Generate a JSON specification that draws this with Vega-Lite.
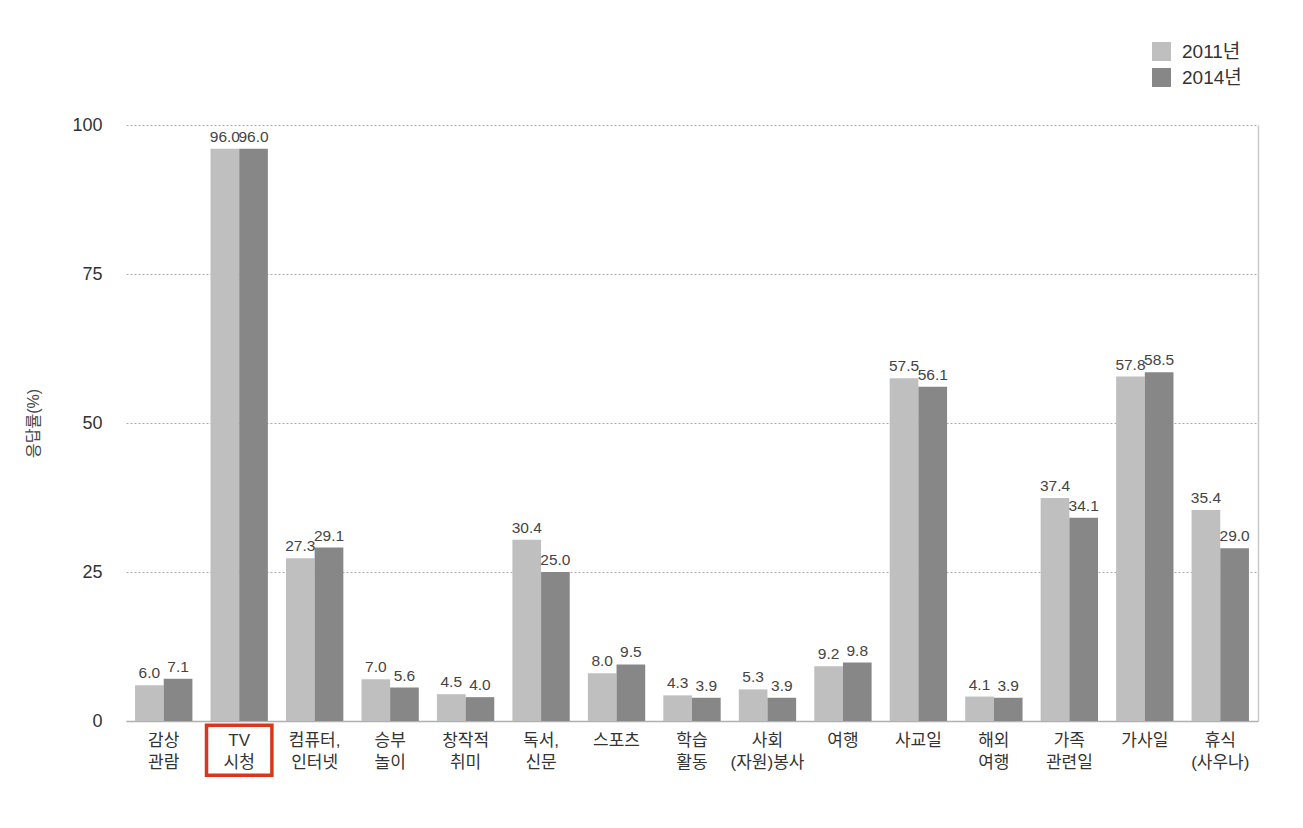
{
  "$schema": "https://vega.github.io/schema/vega-lite/v6.json",
  "autosize": {"type": "none"},
  "width": 1132,
  "height": 596,
  "padding": {"left": 126, "top": 125, "right": 45, "bottom": 107},
  "background": "white",
  "config": {
    "font": "Liberation Sans, Noto Sans CJK KR",
    "view": {"stroke": null},
    "axis": {"labelFont": "Liberation Sans, Noto Sans CJK KR", "titleFont": "Liberation Sans, Noto Sans CJK KR"},
    "legend": {"labelFont": "Liberation Sans, Noto Sans CJK KR"}
  },
  "datasets": {
    "bars": [
      {"cat": "감상 관람", "year": "2011년", "value": 6.0},
      {"cat": "감상 관람", "year": "2014년", "value": 7.1},
      {"cat": "TV 시청", "year": "2011년", "value": 96.0},
      {"cat": "TV 시청", "year": "2014년", "value": 96.0},
      {"cat": "컴퓨터, 인터넷", "year": "2011년", "value": 27.3},
      {"cat": "컴퓨터, 인터넷", "year": "2014년", "value": 29.1},
      {"cat": "승부 놀이", "year": "2011년", "value": 7.0},
      {"cat": "승부 놀이", "year": "2014년", "value": 5.6},
      {"cat": "창작적 취미", "year": "2011년", "value": 4.5},
      {"cat": "창작적 취미", "year": "2014년", "value": 4.0},
      {"cat": "독서, 신문", "year": "2011년", "value": 30.4},
      {"cat": "독서, 신문", "year": "2014년", "value": 25.0},
      {"cat": "스포츠", "year": "2011년", "value": 8.0},
      {"cat": "스포츠", "year": "2014년", "value": 9.5},
      {"cat": "학습 활동", "year": "2011년", "value": 4.3},
      {"cat": "학습 활동", "year": "2014년", "value": 3.9},
      {"cat": "사회 (자원)봉사", "year": "2011년", "value": 5.3},
      {"cat": "사회 (자원)봉사", "year": "2014년", "value": 3.9},
      {"cat": "여행", "year": "2011년", "value": 9.2},
      {"cat": "여행", "year": "2014년", "value": 9.8},
      {"cat": "사교일", "year": "2011년", "value": 57.5},
      {"cat": "사교일", "year": "2014년", "value": 56.1},
      {"cat": "해외 여행", "year": "2011년", "value": 4.1},
      {"cat": "해외 여행", "year": "2014년", "value": 3.9},
      {"cat": "가족 관련일", "year": "2011년", "value": 37.4},
      {"cat": "가족 관련일", "year": "2014년", "value": 34.1},
      {"cat": "가사일", "year": "2011년", "value": 57.8},
      {"cat": "가사일", "year": "2014년", "value": 58.5},
      {"cat": "휴식 (사우나)", "year": "2011년", "value": 35.4},
      {"cat": "휴식 (사우나)", "year": "2014년", "value": 29.0}
    ],
    "highlight": [
      {"cat": "TV 시청", "top": -0.7, "bottom": -9.1}
    ]
  },
  "data": {"name": "bars"},
  "encoding": {
    "x": {
      "field": "cat",
      "type": "nominal",
      "sort": null,
      "scale": {"paddingInner": 0.24, "paddingOuter": 0.12},
      "axis": {
        "title": null,
        "labelAngle": 0,
        "labelExpr": "split(datum.label, ' ')",
        "labelFontSize": 17,
        "labelColor": "#333333",
        "labelPadding": 11,
        "labelLineHeight": 22,
        "ticks": false,
        "domainColor": "#b0b0b0",
        "domainWidth": 1.5
      }
    }
  },
  "layer": [
    {
      "mark": {"type": "bar"},
      "encoding": {
        "xOffset": {"field": "year", "type": "nominal", "scale": {"paddingInner": 0}},
        "y": {
          "field": "value",
          "type": "quantitative",
          "scale": {"domain": [0, 100]},
          "axis": {
            "values": [0, 25, 50, 75, 100],
            "title": "응답률(%)",
            "titleFontSize": 16,
            "titleFontWeight": "normal",
            "titleColor": "#444444",
            "titlePadding": 30,
            "labelFontSize": 18,
            "labelColor": "#333333",
            "labelPadding": 24,
            "ticks": false,
            "domain": false,
            "grid": true,
            "gridColor": "#aaaaaa",
            "gridDash": [2, 2],
            "gridWidth": 1
          }
        },
        "color": {
          "field": "year",
          "type": "nominal",
          "scale": {"domain": ["2011년", "2014년"], "range": ["#bfbfbf", "#878787"]},
          "legend": {
            "title": null,
            "orient": "none",
            "legendX": 1026,
            "legendY": -83,
            "symbolType": "square",
            "symbolSize": 360,
            "symbolStrokeWidth": 0,
            "labelFontSize": 19,
            "labelColor": "#333333",
            "rowPadding": 6,
            "labelOffset": 11
          }
        }
      }
    },
    {
      "mark": {"type": "text", "baseline": "bottom", "dy": -4, "fontSize": 15.5, "color": "#444444"},
      "encoding": {
        "xOffset": {"field": "year", "type": "nominal", "scale": {"paddingInner": 0}},
        "y": {
          "field": "value",
          "type": "quantitative",
          "scale": {"domain": [0, 100]},
          "axis": {
            "orient": "right",
            "title": null,
            "labels": false,
            "ticks": false,
            "grid": false,
            "domain": true,
            "domainColor": "#c8c8c8",
            "domainWidth": 1.5
          }
        },
        "text": {"field": "value", "type": "quantitative", "format": ".1f"}
      }
    },
    {
      "data": {"name": "highlight"},
      "mark": {"type": "bar", "filled": false, "stroke": "#d9361c", "strokeWidth": 3.5, "width": {"band": 1.14}, "clip": false},
      "encoding": {
        "y": {"field": "top", "type": "quantitative", "axis": null},
        "y2": {"field": "bottom"}
      }
    }
  ],
  "resolve": {"axis": {"y": "independent"}}
}
